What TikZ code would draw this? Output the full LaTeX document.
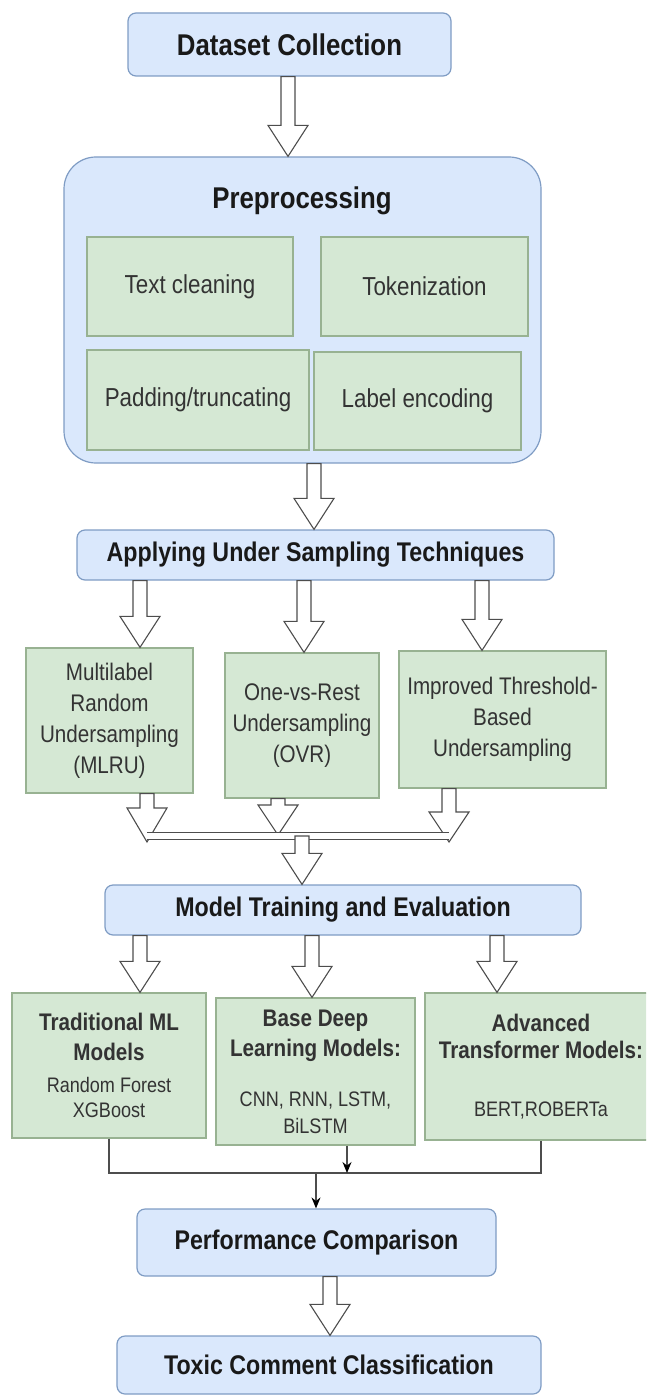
\documentclass[tikz,border=0pt]{standalone}
\usepackage{fontspec}
\setmainfont{Liberation Sans}[FakeStretch=0.86]
\usetikzlibrary{arrows.meta,calc,positioning}
\definecolor{tcBlue}{HTML}{DAE8FC}
\definecolor{tcBlueLine}{HTML}{7F9CC4}
\definecolor{tcGreen}{HTML}{D5E8D4}
\definecolor{tcGreenLine}{HTML}{98B292}
\definecolor{tcArrow}{HTML}{4D4D4D}
\definecolor{tcText}{HTML}{333333}
\tikzset{
  stage/.style={
    draw=tcBlueLine, fill=tcBlue, rounded corners=8pt, line width=1.2pt,
    inner sep=0pt, font=\bfseries\fontsize{27}{32}\selectfont, text=black!90
  },
  group/.style={stage, rounded corners=32pt},
  task/.style={
    draw=tcGreenLine, fill=tcGreen, line width=1.2pt, inner sep=0pt,
    align=center, text=tcText, font=\fontsize{26}{31}\selectfont
  },
  sampler/.style={task, font=\fontsize{24}{31}\selectfont},
  model/.style={task, font=\fontsize{21}{25}\selectfont},
  hollow/.style={draw=tcArrow, fill=white, line width=1.1pt, line join=miter},
  bar/.style={draw=tcArrow, line width=1.1pt, double=white, double distance=6.5pt},
  link/.style={draw=tcArrow, line width=1.3pt},
  linkarrow/.style={link, -{Stealth[length=11pt, width=9pt, color=black]}}
}
% block arrow: start point, tip point (vertical)
\newcommand{\hollowarrow}[3][31pt]{%
  \draw[hollow] let \p1=(#2), \p2=(#3) in
    (\x1-7pt,\y1) -- (\x1-7pt,\y2+#1) -- (\x1-20pt,\y2+#1) -- (\x1,\y2)
    -- (\x1+20pt,\y2+#1) -- (\x1+7pt,\y2+#1) -- (\x1+7pt,\y1) -- cycle;}

\begin{document}
\begin{tikzpicture}[x=1pt, y=-1pt]
  \useasboundingbox (0,0) rectangle (646,1396);
  \clip (0,0) rectangle (646,1396);

  % stages
  \node[stage, minimum width=323pt, minimum height=63pt, font=\bfseries\fontsize{30}{36}\selectfont] (ds) at (289.5,44.5) {Dataset Collection};
  \node[group, minimum width=477pt, minimum height=306pt] (pre) at (302.5,310) {};
  \node[font=\bfseries\fontsize{30}{36}\selectfont, text=black!90] (pretitle) at (302,201) {Preprocessing};
  \node[task, minimum width=206pt, minimum height=99pt] (clean) at (190,286.5) {Text cleaning};
  \node[task, minimum width=207pt, minimum height=99pt] (token) at (424.5,286.5) {Tokenization};
  \node[task, minimum width=222pt, minimum height=100pt] (pad) at (198,400) {Padding/truncating};
  \node[task, minimum width=207pt, minimum height=98pt] (enc) at (417.5,401) {Label encoding};
  \node[stage, minimum width=477pt, minimum height=50pt] (under) at (315.5,555) {Applying Under Sampling Techniques};

  % undersampling methods
  \node[sampler, minimum width=167pt, minimum height=145pt] (mlru) at (109.5,720.5) {Multilabel\\Random\\Undersampling\\(MLRU)};
  \node[sampler, minimum width=154pt, minimum height=145pt] (ovr) at (302,725.5) {One-vs-Rest\\Undersampling\\(OVR)};
  \node[sampler, minimum width=207pt, minimum height=137pt] (itb) at (502.5,719.5) {Improved Threshold-\\Based\\Undersampling};
  \node[stage, minimum width=476pt, minimum height=50pt] (train) at (343,910) {Model Training and Evaluation};

  % model families
  \node[model, minimum width=194pt, minimum height=145pt] (trad) at (109,1065.5)
    {{\bfseries\fontsize{24}{29}\selectfont Traditional ML}\\[5pt]{\bfseries\fontsize{24}{29}\selectfont Models}\\[7pt]Random Forest\\XGBoost};
  \node[model, minimum width=199pt, minimum height=147pt] (deep) at (315.5,1071.5)
    {{\bfseries\fontsize{24}{29}\selectfont Base Deep}\\[5pt]{\bfseries\fontsize{24}{29}\selectfont Learning Models:}\\[25pt]CNN, RNN, LSTM,\\[2pt]BiLSTM};
  \node[model, minimum width=232pt, minimum height=147pt] (trans) at (541,1066.5)
    {{\bfseries\fontsize{24}{29}\selectfont Advanced}\\[2pt]{\bfseries\fontsize{24}{29}\selectfont Transformer Models:}\\[33pt]BERT,ROBERTa};
  \node[stage, minimum width=359pt, minimum height=67pt] (perf) at (316.5,1242.5) {Performance Comparison};
  \node[stage, minimum width=424pt, minimum height=58pt] (toxic) at (329,1365) {Toxic Comment Classification};

  % block arrows
  \hollowarrow{ds.south -| 288,0}{pre.north -| 288,0}
  \hollowarrow{pre.south -| 314,0}{under.north -| 314,0}
  \hollowarrow{under.south -| 140,0}{mlru.north -| 140,0}
  \hollowarrow{under.south -| 304,0}{ovr.north -| 304,0}
  \hollowarrow{under.south -| 482,0}{itb.north -| 482,0}

  \coordinate (mlruend) at (147,842);
  \coordinate (ovrend) at (278,835);
  \coordinate (itbend) at (449,842);
  \coordinate (merge) at (302,836);
  \hollowarrow[34pt]{mlru.south -| mlruend}{mlruend}
  \hollowarrow[30pt]{ovr.south -| ovrend}{ovrend}
  \hollowarrow[30pt]{itb.south -| itbend}{itbend}
  \draw[bar] (mlruend |- merge) -- (itbend |- merge);
  \hollowarrow{merge}{train.north -| merge}

  \hollowarrow{train.south -| 140,0}{trad.north -| 140,0}
  \hollowarrow{train.south -| 312,0}{deep.north -| 312,0}
  \hollowarrow{train.south -| 497,0}{trans.north -| 497,0}

  % results
  \coordinate (join) at (316,1173);
  \draw[link] (trad.south) -- (trad.south |- join) -| (trans.south);
  \draw[linkarrow] (deep.south -| 347,0) -- (join -| 347,0);
  \draw[linkarrow] (join) -- (perf.north -| join);
  \hollowarrow{perf.south -| 330,0}{toxic.north -| 330,0}
\end{tikzpicture}
\end{document}
